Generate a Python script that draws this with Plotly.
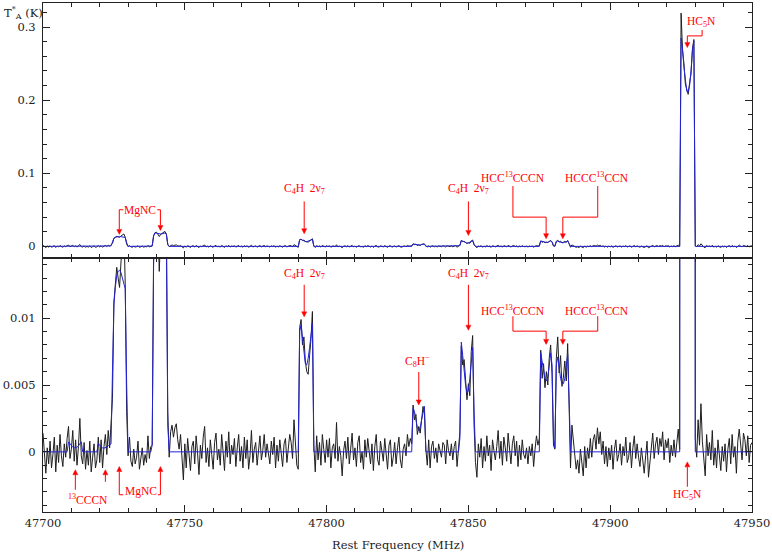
import plotly.graph_objects as go

# ---------------- data ----------------
F0 = 47700.0      # first channel (MHz)
DF = 0.5          # channel width (MHz)

# observed antenna temperature, mK, one value per 0.5 MHz channel (47700 -> 47950 MHz)
ta_mK = [
    1.4, -0.6, -1.6, 0.3, -0.9, 0.8, -1.2, -0.2, 1.1, -1.5, 0.5, -0.8, 1.3, -0.3, -1.1, 0.6, -0.4, 1.0, 1.9, -0.5,
    0.2, 1.6, -0.7, 0.9, -1.0, 0.4, 2.5, -0.3, -0.9, 0.7, -1.3, 0.1, -1.0, 0.8, -1.5, -0.4, 0.6, -1.2, -0.6, 1.1,
    -0.8, 0.9, -1.2, 0.4, 1.3, -0.2, 1.6, 0.3, 1.9, 4.0, 11.2, 12.8, 13.8, 13.0, 12.3, 14.2, 15.5, 17.0, 12.5, 3.0,
    -0.3, 1.1, -0.7, -1.1, 0.2, -0.9, -0.4, 0.8, -1.3, -0.6, 0.3, -1.0, -0.2, -0.8, 1.2, -0.5, 0.4, 0.5, 15.0, 18.8,
    19.5, 17.0, 13.5, 16.5, 18.0, 19.8, 20.5, 17.0, 3.0, -0.4, 1.5, 2.0, 1.1, 1.8, 2.1, 0.9, 0.2, 1.3, -0.4, -2.1,
    0.6, -1.2, 1.0, -0.3, -1.4, 0.4, 0.8, -0.9, 1.2, -0.1, -1.7, 0.5, -0.5, 1.1, 1.9, -0.8, 0.3, -1.1, 0.9, -0.2,
    -1.3, 0.7, 1.4, -0.6, 0.2, -1.0, 1.3, 0.0, -1.4, 0.8, -0.4, 1.5, -0.9, 0.5, -0.2, 1.0, -1.1, 0.3, 1.3, -0.7,
    0.4, -1.2, 1.1, -0.5, 0.9, -1.3, -0.3, 1.6, -0.8, 0.2, 0.7, -1.0, 0.4, 1.2, -0.6, 0.1, 1.3, -0.4, 0.6, 0.0,
    -0.9, 0.8, -0.2, 1.1, -1.2, 0.5, -0.7, 0.9, -0.3, -1.1, 0.6, 1.0, -0.8, 0.3, 1.3, 0.7, -0.5, 2.4, 0.9, -1.0,
    -1.3, 9.3, 9.9, 8.0, 8.6, 6.8, 6.0, 5.8, 7.2, 8.5, 10.5, 0.5, -1.5, 1.2, -0.6, 0.7, -1.0, 1.3, 0.2, -0.8,
    0.9, -0.4, 1.0, -1.2, 0.3, 0.6, -0.5, 2.2, -0.7, 0.4, -0.3, -1.8, 0.1, 0.8, -0.5, 1.1, -0.9, 0.2, 1.4, -0.6,
    0.3, -1.1, 0.7, 1.2, -0.8, 0.0, -1.3, 0.9, -0.4, 1.0, 0.2, -0.9, 0.6, -1.4, 0.4, 1.3, -0.6, -1.0, 0.8, 0.1,
    -0.7, 1.0, -0.2, -1.3, 0.5, 0.9, -1.1, -0.4, 0.7, -0.9, 0.3, 1.1, -0.6, -1.2, 0.2, 0.6, -0.3, 1.3, 0.4, 1.0,
    0.6, 3.5, 2.4, 2.8, 1.3, 1.9, 1.4, 2.7, 3.4, 2.9, 0.2, -1.0, 0.9, -1.2, 0.4, 0.8, -0.5, 0.3, -0.8, 0.6,
    0.2, -0.4, 0.7, 0.5, -0.9, 0.9, 0.1, -0.3, 0.6, -0.6, 0.4, 0.8, -1.1, 0.3, 1.5, 7.9, 6.5, 6.9, 5.6, 3.9,
    5.1, 4.2, 7.5, 8.7, 2.0, -0.8, -1.9, 0.6, -0.4, 1.0, -1.2, 0.4, -0.7, 1.2, -0.3, 0.5, -1.4, 0.9, 0.1, -0.6,
    0.4, 1.6, -0.5, 0.8, -1.0, 1.1, 0.3, -0.7, 1.4, 0.2, -0.9, 0.6, 1.2, -0.3, 0.8, -1.1, 0.5, -0.6, 0.9, -0.2,
    -0.5, 0.3, -0.9, 0.4, -0.3, 0.6, -1.1, 0.2, 1.2, 0.5, 1.0, 7.6, 5.5, 6.6, 4.8, 6.0, 5.0, 7.0, 8.0, 5.8,
    0.5, 0.2, 7.0, 8.6, 5.9, 7.2, 4.9, 5.6, 6.8, 5.3, 8.1, 3.5, -1.2, 2.0, 0.9, -0.5, -1.3, -0.6, -1.6, 0.2,
    -0.9, -1.8, 0.4, -1.2, 0.3, -0.5, 1.0, -0.4, 0.9, 1.3, 0.2, 1.8, 0.6, 1.5, -0.2, 0.8, -0.9, 0.4, -1.1, 0.3,
    -0.6, 0.5, -1.3, 0.2, 0.9, -0.7, -0.2, 0.6, -1.0, 0.4, -0.3, 1.1, -0.8, -0.4, 0.7, -1.2, 0.3, 1.2, -0.5, 0.6,
    -0.4, -1.1, 0.3, -0.8, -1.6, -0.3, 0.8, -1.9, -0.7, 0.2, 1.4, -0.5, 0.6, 1.1, -0.2, 1.0, 0.4, 1.5, -0.6, 0.9,
    0.3, 1.0, -0.8, 0.5, -0.3, 0.9, -0.4, 0.7, 1.7, 0.2, 319.0, 268.0, 250.0, 222.0, 214.0, 208.0, 224.0, 236.0, 270.0, 283.0,
    1.0, -0.4, 2.4, 0.5, 3.6, 0.8, -0.9, -1.8, 1.3, -0.3, 0.7, -0.6, 1.6, -1.0, 0.3, -1.2, 0.9, -0.5, -1.4, 0.4,
    -0.7, 0.6, -1.5, 0.2, 1.0, -0.9, 1.3, -0.4, 0.4, -1.6, 0.8, 1.7, 0.3, -0.6, 1.4, 0.9, -0.3, 1.2, -0.8, 0.5, 0.7,
]

# model line profiles (mK): first channel frequency (MHz) and values; zero elsewhere
model_13cccn_a = (47709.0, [0.75, 0.6, 0.45, 0.35, 0.3, 0.3, 0.35, 0.45, 0.6, 0.75])
model_13cccn_b = (47719.5, [0.6, 0.5, 0.4, 0.3, 0.28, 0.3, 0.35, 0.45, 0.55, 0.6])
model_mgnc_a = (47724.5, [6.0, 11.0, 12.3, 13.2, 13.5, 13.6, 13.4, 13.0, 12.6, 12.2, 5.0])
model_mgnc_b = (47738.5, [0.5, 14.0, 18.5, 18.0, 17.5, 17.2, 17.0, 17.2, 17.6, 18.3, 16.5, 2.0])
model_c4h_a = (47790.5, [9.0, 9.5, 8.5, 7.4, 6.6, 6.5, 7.0, 7.8, 8.8, 9.6])
model_c8h = (47830.5, [3.3, 3.0, 2.4, 1.8, 1.6, 1.8, 2.4, 3.0, 3.4])
model_c4h_b = (47847.0, [1.0, 8.2, 7.2, 6.0, 5.0, 4.4, 4.6, 5.5, 6.8, 7.8, 3.0])
model_hcc13cccn = (47875.5, [7.4, 6.8, 6.0, 5.5, 5.3, 5.6, 6.4, 7.4, 6.5, 1.0, 0.3])
model_hccc13ccn = (47881.0, [6.5, 7.1, 6.2, 5.5, 5.1, 5.1, 5.5, 6.3, 7.3, 4.0])
model_hc5n = (47925.0, [285.0, 270.0, 245.0, 225.0, 212.0, 211.0, 220.0, 240.0, 268.0, 281.0])

x_tickvals = [47700, 47750, 47800, 47850, 47900, 47950]
x_ticktext = ["47700", "47750", "47800", "47850", "47900", "47950"]
top_tickvals = [0, 0.1, 0.2, 0.3]
top_ticktext = ["0", "0.1", "0.2", "0.3"]
bot_tickvals = [0, 0.005, 0.01]
bot_ticktext = ["0", "0.005", "0.01"]

# ---------------- build ----------------
N = len(ta_mK)
freq = [F0 + DF * i for i in range(N)]
spec = [v / 1000.0 for v in ta_mK]
model = [0.0] * N
for start, vals in [model_13cccn_a, model_13cccn_b, model_mgnc_a, model_mgnc_b, model_c4h_a,
                    model_c8h, model_c4h_b, model_hcc13cccn, model_hccc13ccn, model_hc5n]:
    i0 = int(round((start - F0) / DF))
    for k, v in enumerate(vals):
        model[i0 + k] = v / 1000.0

BLACK = "#1e1e1e"
BLUE = "rgb(35,35,215)"
RED = "rgb(255,0,0)"
TFONT = "DejaVu Serif"
LFONT = "Liberation Serif"

X_RANGE = [47700, 47950]
TOP_RANGE = [-0.0152, 0.3329]
BOT_RANGE = [-0.0045, 0.01454]

fig = go.Figure()
for xa, ya in [("x", "y"), ("x2", "y2")]:
    fig.add_trace(go.Scatter(x=freq, y=spec, mode="lines", line=dict(color=BLACK, width=1),
                             xaxis=xa, yaxis=ya, hoverinfo="skip"))
    fig.add_trace(go.Scatter(x=freq, y=model, mode="lines", line=dict(color=BLUE, width=1),
                             xaxis=xa, yaxis=ya, hoverinfo="skip"))

axis_common = dict(showgrid=False, zeroline=False, showline=True, linecolor="#222", linewidth=1,
                   mirror="allticks", ticks="inside", ticklen=7, tickcolor="#222", tickwidth=1,
                   tickfont=dict(family=TFONT, size=11.5, color="#222"))

fig.update_layout(
    width=772, height=552, margin=dict(l=43, r=18, t=2, b=40),
    paper_bgcolor="white", plot_bgcolor="white", showlegend=False,
    xaxis=dict(domain=[0, 1], anchor="y", range=X_RANGE, tickmode="array",
               tickvals=x_tickvals, ticktext=x_ticktext, ticklabeloverflow="allow",
               minor=dict(tickmode="linear", tick0=47700, dtick=10, ticks="inside", ticklen=4, tickcolor="#222"),
               **axis_common),
    xaxis2=dict(domain=[0, 1], anchor="y2", matches="x", range=X_RANGE, showticklabels=False,
                tickmode="array", tickvals=x_tickvals,
                minor=dict(tickmode="linear", tick0=47700, dtick=10, ticks="inside", ticklen=4, tickcolor="#222"),
                **axis_common),
    yaxis=dict(domain=[0, 0.5], anchor="x", range=BOT_RANGE, tickmode="array",
               tickvals=bot_tickvals, ticktext=bot_ticktext, ticklabelstandoff=4,
               minor=dict(tickmode="linear", tick0=0, dtick=0.001, ticks="inside", ticklen=4, tickcolor="#222"),
               **axis_common),
    yaxis2=dict(domain=[0.5, 1], anchor="x2", range=TOP_RANGE, tickmode="array",
                tickvals=top_tickvals, ticktext=top_ticktext, ticklabelstandoff=4,
                minor=dict(tickmode="linear", tick0=0, dtick=0.02, ticks="inside", ticklen=4, tickcolor="#222"),
                **axis_common),
)

anns = []
shapes = []
lab_font = dict(family=LFONT, size=11.5, color=RED)

# pixel sizes of the data units in each panel (plot area 711 x 255 px)
MHZ_PER_PX = (X_RANGE[1] - X_RANGE[0]) / 711.0
UNIT_PER_PX = {"y2": (TOP_RANGE[1] - TOP_RANGE[0]) / 255.0, "y": (BOT_RANGE[1] - BOT_RANGE[0]) / 255.0}


def label(text, x, y, xr, yr):
    anns.append(dict(text=text, x=x, y=y, xref=xr, yref=yr, showarrow=False, font=lab_font,
                     xanchor="center", yanchor="middle", borderpad=0))


def poly(pts, xr, yr):
    path = "M " + " L ".join(f"{px},{py}" for px, py in pts)
    shapes.append(dict(type="path", path=path, xref=xr, yref=yr, line=dict(color=RED, width=1)))


def arrow(x, y_tail, y_tip, xr, yr):
    # shaft + filled head (head 5 px long, 5 px wide)
    d = 1 if y_tip > y_tail else -1
    hl = 5 * UNIT_PER_PX[yr]
    hw = 2.5 * MHZ_PER_PX
    base = y_tip - d * hl
    poly([(x, y_tail), (x, base)], xr, yr)
    shapes.append(dict(type="path", path=f"M {x - hw},{base} L {x + hw},{base} L {x},{y_tip} Z",
                       xref=xr, yref=yr, line=dict(color=RED, width=0.5), fillcolor=RED))


NB = "\u00a0"
C4H = "C<sub>4</sub>H" + NB + NB + "2\u03bd<sub>7</sub>"

# ---- top panel ----
T = ("x2", "y2")
label("MgNC", 47734.3, 0.0495, *T)
poly([(47728.3, 0.0501), (47726.9, 0.0501)], *T)
arrow(47726.9, 0.0501, 0.0164, *T)
poly([(47740.3, 0.0501), (47741.4, 0.0501)], *T)
arrow(47741.4, 0.0501, 0.0218, *T)
label(C4H, 47792.1, 0.078, *T)
arrow(47792.1, 0.0615, 0.0173, *T)
label(C4H, 47850.2, 0.078, *T)
arrow(47850.0, 0.0615, 0.0150, *T)
label("HCC<sup>13</sup>CCCN", 47865.6, 0.095, *T)
poly([(47865.7, 0.0825), (47865.7, 0.040), (47877.4, 0.040)], *T)
arrow(47877.4, 0.040, 0.0105, *T)
label("HCCC<sup>13</sup>CCN", 47895.3, 0.095, *T)
poly([(47895.6, 0.0825), (47895.6, 0.040), (47883.3, 0.040)], *T)
arrow(47883.3, 0.040, 0.0105, *T)
label("HC<sub>5</sub>N", 47932.1, 0.307, *T)
poly([(47932.4, 0.296), (47932.4, 0.2879), (47927.2, 0.2879)], *T)
arrow(47927.2, 0.2879, 0.2719, *T)

# ---- bottom panel ----
B = ("x", "y")
label(C4H, 47792.1, 0.01330, *B)
arrow(47792.1, 0.01250, 0.0101, *B)
label(C4H, 47850.0, 0.01330, *B)
arrow(47850.0, 0.01250, 0.0091, *B)
label("C<sub>8</sub>H<sup>\u2212</sup>", 47832.0, 0.00680, *B)
arrow(47832.5, 0.00597, 0.00351, *B)
label("HCC<sup>13</sup>CCCN", 47865.6, 0.01060, *B)
poly([(47865.7, 0.01015), (47865.7, 0.00903), (47877.4, 0.00903)], *B)
arrow(47877.4, 0.00903, 0.00804, *B)
label("HCCC<sup>13</sup>CCN", 47895.3, 0.01060, *B)
poly([(47895.6, 0.01015), (47895.6, 0.00903), (47883.3, 0.00903)], *B)
arrow(47883.3, 0.00903, 0.00804, *B)
label("<sup>13</sup>CCCN", 47715.9, -0.00355, *B)
arrow(47711.4, -0.00284, -0.00134, *B)
arrow(47722.0, -0.00224, -0.00134, *B)
label("MgNC", 47734.6, -0.00300, *B)
poly([(47728.3, -0.00321), (47726.9, -0.00321)], *B)
arrow(47726.9, -0.00321, -0.0011, *B)
poly([(47740.5, -0.00321), (47741.4, -0.00321)], *B)
arrow(47741.4, -0.00321, -0.0011, *B)
label("HC<sub>5</sub>N", 47927.2, -0.00323, *B)
arrow(47927.2, -0.00261, -0.00075, *B)

# ---- axis titles ----
anns.append(dict(text="Rest Frequency (MHz)", x=0.5, y=-0.064, xref="paper", yref="paper", showarrow=False,
                 font=dict(family=TFONT, size=11.5, color="#222"), xanchor="center", yanchor="middle"))
anns.append(dict(text="T<sup>*</sup><sub>A</sub> (K)", x=-0.058, y=0.981, xref="paper", yref="paper",
                 showarrow=False, font=dict(family=TFONT, size=11.5, color="#222"),
                 xanchor="left", yanchor="middle"))

fig.update_layout(annotations=anns, shapes=shapes)
fig.write_html("out.html", config={"displayModeBar": False},
               post_script="document.body.style.margin='0px';document.body.style.overflow='hidden';")
